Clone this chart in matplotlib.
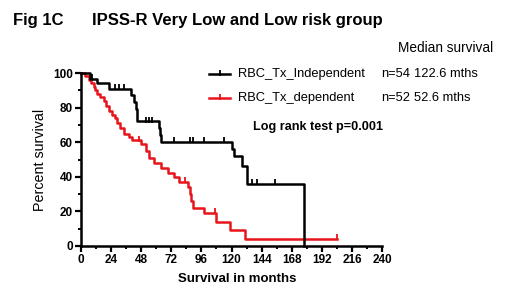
import matplotlib
matplotlib.use("Agg")
import matplotlib.pyplot as plt
from matplotlib.lines import Line2D
import numpy as np

plt.rcParams['font.family'] = ['Liberation Sans', 'DejaVu Sans']

# Kaplan-Meier step data (time in months, percent survival after event)
black_t = [0, 7, 13, 22, 40, 42, 44, 45, 62, 63, 64, 120, 122, 128, 132, 178]
black_s = [100, 96.5, 94, 91, 87, 83, 79, 72, 68, 64, 60, 56, 52, 46, 36, 0]
black_cens_t = [9, 27, 30, 34, 52, 54, 57, 74, 87, 89, 98, 114, 136, 140, 155]

red_t = [0, 3, 6, 8, 10, 11, 13, 15, 18, 20, 22, 25, 27, 29, 31, 34, 38, 41, 48,
         52, 54, 58, 64, 69, 74, 78, 85, 87, 88, 89, 98, 108, 119, 131]
red_s = [100, 98, 96, 94, 92, 90, 88, 86, 84, 81, 78, 76, 74, 71, 68, 65, 63, 61, 59,
         55, 51, 48, 45, 42, 40, 37, 34, 30, 26, 22, 19, 14, 9, 4]
red_end = 204
red_cens_t = [46, 83, 107, 204]

x_ticks = [0, 24, 48, 72, 96, 120, 144, 168, 192, 216, 240]
y_ticks = [0, 20, 40, 60, 80, 100]

labels = ["RBC_Tx_Independent", "RBC_Tx_dependent"]
n_text = ["n=54", "n=52"]
median_text = ["122.6 mths", "52.6 mths"]

W, H = 520, 298
fig = plt.figure(figsize=(W / 100, H / 100), dpi=100)
ax = fig.add_axes([81 / W, 1 - 246 / H, (382 - 81) / W, (246 - 73) / H])


def surv_at(ts, ss, t):
    idx = np.searchsorted(ts, t, side='right') - 1
    return ss[idx]


RED = '#e8141b'

# black curve
ax.step(black_t, black_s, where='post', color='black', lw=1.8, clip_on=False, zorder=3)
bc = [surv_at(black_t, black_s, t) for t in black_cens_t]
ax.plot(black_cens_t, np.array(bc) + 1.0, ls='none', marker='|', ms=4, mew=1.3,
        color='black', clip_on=False, zorder=3)

# red curve
rx = list(red_t) + [red_end]
rs = list(red_s) + [red_s[-1]]
ax.step(rx, rs, where='post', color=RED, lw=1.8, clip_on=False, zorder=2)
rc = [surv_at(red_t, red_s, t) for t in red_cens_t]
ax.plot(red_cens_t, np.array(rc) + 1.0, ls='none', marker='|', ms=4, mew=1.3,
        color=RED, clip_on=False, zorder=2)

ax.set_xlim(0, 240)
ax.set_ylim(0, 100)
ax.set_xticks(x_ticks)
ax.set_xticks(np.arange(0, 241, 12), minor=True)
ax.set_yticks(y_ticks)
ax.set_yticks(np.arange(0, 101, 10), minor=True)
ax.tick_params(axis='both', which='major', length=4, width=1.6, labelsize=8.5, pad=2)
ax.tick_params(axis='both', which='minor', length=2.5, width=1.4)
for lab in ax.get_xticklabels() + ax.get_yticklabels():
    lab.set_fontweight('bold')
for s in ['top', 'right']:
    ax.spines[s].set_visible(False)
for s in ['left', 'bottom']:
    ax.spines[s].set_linewidth(1.8)
ax.set_xlabel("Survival in months", fontsize=9.5, fontweight='bold')
ax.xaxis.set_label_coords(0.52, -0.155)
ax.set_ylabel("Percent survival", fontsize=10.3, labelpad=4)

# titles
fig.text(13 / W, 1 - 21 / H, "Fig 1C", fontsize=12, fontweight='bold', va='center', ha='left')
fig.text(92 / W, 1 - 21 / H, "IPSS-R Very Low and Low risk group", fontsize=12,
         fontweight='bold', va='center', ha='left')
fig.text(398 / W, 1 - 48 / H, "Median survival", fontsize=9.8, va='center', ha='left')

# legend
colors = ['black', RED]
ys = [74, 98]
for c, y, lab, n, m in zip(colors, ys, labels, n_text, median_text):
    fy = 1 - y / H
    fig.add_artist(Line2D([209 / W, 230 / W], [fy, fy], color=c, lw=1.8,
                          transform=fig.transFigure))
    fig.add_artist(Line2D([219.5 / W], [fy + 1.5 / H], color=c, marker='|', ms=4, mew=1.3,
                          transform=fig.transFigure))
    fig.text(238 / W, fy, lab, fontsize=9.3, va='center', ha='left')
    fig.text(381 / W, fy, n, fontsize=9.3, va='center', ha='left')
    fig.text(414 / W, fy, m, fontsize=9.3, va='center', ha='left')

fig.text(253 / W, 1 - 127 / H, "Log rank test p=0.001", fontsize=9.1, fontweight='bold',
         va='center', ha='left')

fig.savefig("out.png", dpi=100)
